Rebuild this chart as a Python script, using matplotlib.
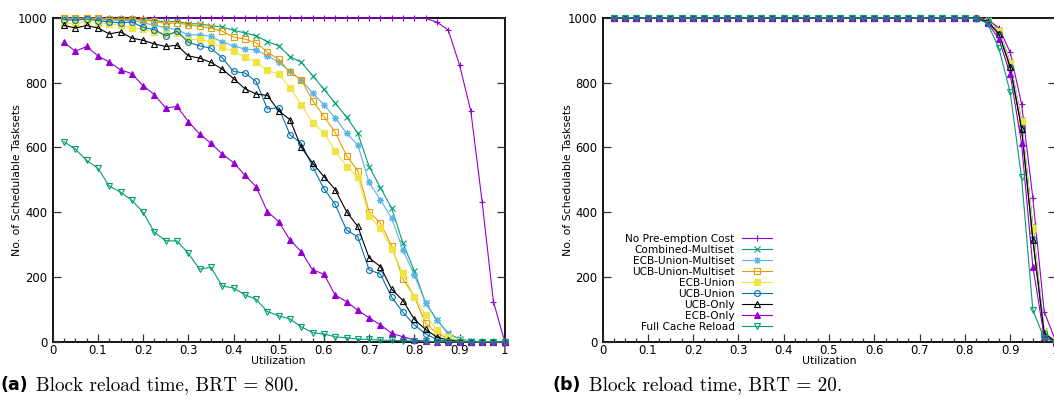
import matplotlib
matplotlib.use("Agg")
import matplotlib.pyplot as plt

utilization = [0.025, 0.05, 0.075, 0.1, 0.125, 0.15, 0.175, 0.2, 0.225, 0.25,
               0.275, 0.3, 0.325, 0.35, 0.375, 0.4, 0.425, 0.45, 0.475, 0.5,
               0.525, 0.55, 0.575, 0.6, 0.625, 0.65, 0.675, 0.7, 0.725, 0.75,
               0.775, 0.8, 0.825, 0.85, 0.875, 0.9, 0.925, 0.95, 0.975, 1.0]

series_names = ["No Pre-emption Cost", "Combined-Multiset", "ECB-Union-Multiset",
                "UCB-Union-Multiset", "ECB-Union", "UCB-Union", "UCB-Only",
                "ECB-Only", "Full Cache Reload"]

# ---- (a) BRT = 800 ----
a_no_preemption = [1000, 1000, 1000, 1000, 1000, 1000, 1000, 1000, 1000, 1000,
                   1000, 1000, 1000, 1000, 1000, 1000, 1000, 1000, 1000, 1000,
                   1000, 1000, 1000, 1000, 1000, 1000, 1000, 1000, 1000, 1000,
                   1000, 1000, 999, 987, 963, 855, 713, 433, 124, 0]
a_combined_multiset = [999, 999, 999, 999, 998, 997, 996, 994, 992, 988,
                       990, 982, 982, 976, 972, 962, 954, 945, 927, 914,
                       881, 863, 822, 780, 737, 694, 644, 541, 476, 412,
                       304, 219, 119, 67, 26, 8, 2, 0, 0, 0]
a_ecb_union_multiset = [997, 996, 998, 996, 994, 992, 993, 985, 978, 970,
                        964, 948, 948, 943, 926, 914, 904, 902, 883, 863,
                        835, 809, 768, 732, 691, 644, 608, 492, 439, 381,
                        283, 206, 121, 67, 24, 8, 2, 0, 0, 0]
a_ucb_union_multiset = [999, 999, 999, 999, 997, 996, 997, 993, 990, 982,
                        985, 979, 974, 969, 959, 941, 935, 923, 894, 873,
                        832, 809, 745, 696, 647, 575, 528, 402, 366, 296,
                        194, 139, 57, 26, 10, 3, 0, 0, 0, 0]
a_ecb_union = [986, 980, 992, 986, 981, 978, 969, 965, 957, 950,
               955, 933, 935, 926, 909, 897, 879, 864, 838, 827,
               785, 732, 677, 646, 590, 541, 509, 387, 351, 286,
               211, 139, 83, 36, 15, 3, 0, 0, 0, 0]
a_ucb_union = [995, 993, 997, 992, 988, 985, 988, 971, 964, 945,
               959, 925, 914, 907, 877, 835, 830, 804, 719, 723,
               639, 613, 541, 473, 424, 345, 324, 222, 209, 137,
               91, 52, 24, 7, 2, 0, 0, 0, 0, 0]
a_ucb_only = [977, 969, 977, 969, 951, 957, 938, 931, 920, 912,
              916, 883, 876, 863, 842, 813, 782, 765, 761, 713,
              686, 600, 552, 510, 470, 402, 356, 259, 232, 162,
              127, 69, 38, 14, 5, 1, 0, 0, 0, 0]
a_ecb_only = [925, 897, 912, 883, 864, 840, 828, 791, 763, 722,
              727, 680, 642, 613, 580, 553, 515, 479, 402, 371,
              314, 278, 222, 209, 144, 124, 97, 74, 52, 26,
              15, 5, 2, 0, 0, 0, 0, 0, 0, 0]
a_full_cache_reload = [618, 595, 560, 536, 481, 462, 437, 400, 338, 312,
                       311, 273, 224, 230, 172, 166, 145, 131, 93, 80,
                       70, 46, 28, 24, 15, 12, 8, 7, 5, 4,
                       3, 2, 1, 0, 0, 0, 0, 0, 0, 0]

# ---- (b) BRT = 20 ----
b_no_preemption = [1000, 1000, 1000, 1000, 1000, 1000, 1000, 1000, 1000, 1000,
                   1000, 1000, 1000, 1000, 1000, 1000, 1000, 1000, 1000, 1000,
                   1000, 1000, 1000, 1000, 1000, 1000, 1000, 1000, 1000, 1000,
                   1000, 1000, 1000, 995, 970, 894, 735, 444, 93, 3]
b_combined_multiset = [1000, 1000, 1000, 1000, 1000, 1000, 1000, 1000, 1000, 1000,
                       1000, 1000, 1000, 1000, 1000, 1000, 1000, 1000, 1000, 1000,
                       1000, 1000, 1000, 1000, 1000, 1000, 1000, 1000, 1000, 1000,
                       1000, 1000, 1000, 993, 962, 864, 684, 356, 32, 0]
b_ecb_union_multiset = [1000, 1000, 1000, 1000, 1000, 1000, 1000, 1000, 1000, 1000,
                        1000, 1000, 1000, 1000, 1000, 1000, 1000, 1000, 1000, 1000,
                        1000, 1000, 1000, 1000, 1000, 1000, 1000, 1000, 1000, 1000,
                        1000, 1000, 1000, 993, 961, 862, 682, 353, 31, 0]
b_ucb_union_multiset = [1000, 1000, 1000, 1000, 1000, 1000, 1000, 1000, 1000, 1000,
                        1000, 1000, 1000, 1000, 1000, 1000, 1000, 1000, 1000, 1000,
                        1000, 1000, 1000, 1000, 1000, 1000, 1000, 1000, 1000, 1000,
                        1000, 1000, 1000, 992, 958, 858, 676, 346, 29, 0]
b_ecb_union = [1000, 1000, 1000, 1000, 1000, 1000, 1000, 1000, 1000, 1000,
               1000, 1000, 1000, 1000, 1000, 1000, 1000, 1000, 1000, 1000,
               1000, 1000, 1000, 1000, 1000, 1000, 1000, 1000, 1000, 1000,
               1000, 1000, 1000, 992, 960, 862, 681, 350, 30, 0]
b_ucb_union = [1000, 1000, 1000, 1000, 1000, 1000, 1000, 1000, 1000, 1000,
               1000, 1000, 1000, 1000, 1000, 1000, 1000, 1000, 1000, 1000,
               1000, 1000, 1000, 1000, 1000, 1000, 1000, 1000, 1000, 1000,
               1000, 1000, 1000, 990, 952, 850, 660, 318, 26, 0]
b_ucb_only = [1000, 1000, 1000, 1000, 1000, 1000, 1000, 1000, 1000, 1000,
              1000, 1000, 1000, 1000, 1000, 1000, 1000, 1000, 1000, 1000,
              1000, 1000, 1000, 1000, 1000, 1000, 1000, 1000, 1000, 1000,
              1000, 1000, 1000, 989, 950, 848, 658, 314, 25, 0]
b_ecb_only = [1000, 1000, 1000, 1000, 1000, 1000, 1000, 1000, 1000, 1000,
              1000, 1000, 1000, 1000, 1000, 1000, 1000, 1000, 1000, 1000,
              1000, 1000, 1000, 1000, 1000, 1000, 1000, 1000, 1000, 1000,
              1000, 1000, 999, 986, 935, 826, 613, 232, 15, 0]
b_full_cache_reload = [1000, 1000, 1000, 1000, 1000, 1000, 1000, 1000, 1000, 1000,
                       1000, 1000, 1000, 1000, 1000, 1000, 1000, 1000, 1000, 1000,
                       1000, 1000, 1000, 1000, 1000, 1000, 1000, 1000, 1000, 1000,
                       1000, 1000, 998, 983, 907, 770, 508, 98, 10, 0]

x_ticks = [0, 0.1, 0.2, 0.3, 0.4, 0.5, 0.6, 0.7, 0.8, 0.9, 1.0]
x_tick_labels = ["0", "0.1", "0.2", "0.3", "0.4", "0.5", "0.6", "0.7", "0.8", "0.9", "1"]
y_ticks = [0, 200, 400, 600, 800, 1000]
y_tick_labels = ["0", "200", "400", "600", "800", "1000"]

captions = ["Block reload time, BRT = 800.", "Block reload time, BRT = 20."]
caption_tags = ["(a)", "(b)"]

# styles (gnuplot default palette)
styles = [
    dict(color="#9400D3", marker="+", mfc="none", ms=5.0),
    dict(color="#009E73", marker="x", mfc="none", ms=4.0),
    dict(color="#56B4E9", marker=(8, 2, 0), mfc="none", ms=5.0),
    dict(color="#E69F00", marker="s", mfc="none", ms=4.0),
    dict(color="#F0E442", marker="s", mfc="#F0E442", ms=4.0),
    dict(color="#0072B2", marker="o", mfc="none", ms=4.2),
    dict(color="#000000", marker="^", mfc="none", ms=4.2),
    dict(color="#9400D3", marker="^", mfc="#9400D3", ms=4.2),
    dict(color="#009E73", marker="v", mfc="none", ms=4.2),
]

data_a = [a_no_preemption, a_combined_multiset, a_ecb_union_multiset,
          a_ucb_union_multiset, a_ecb_union, a_ucb_union, a_ucb_only,
          a_ecb_only, a_full_cache_reload]
data_b = [b_no_preemption, b_combined_multiset, b_ecb_union_multiset,
          b_ucb_union_multiset, b_ecb_union, b_ucb_union, b_ucb_only,
          b_ecb_only, b_full_cache_reload]

W, H = 1054, 403
fig = plt.figure(figsize=(W / 100, H / 100), dpi=100)

def px_axes(x0, x1, ytop, ybot):
    return fig.add_axes([x0 / W, (H - ybot) / H, (x1 - x0) / W, (ybot - ytop) / H])

ax_a = px_axes(52.7, 504.7, 18.0, 341.7)
ax_b = px_axes(602.5, 1055.5, 18.0, 341.7)

for ax, data in ((ax_a, data_a), (ax_b, data_b)):
    for name, vals, st in zip(series_names, data, styles):
        ax.plot(utilization, vals, color=st["color"], lw=0.8, marker=st["marker"],
                ms=st["ms"], mfc=st["mfc"], mec=st["color"], mew=0.8,
                label=name, clip_on=False)
    ax.set_xlim(0, 1)
    ax.set_ylim(0, 1000)
    ax.set_xticks(x_ticks)
    ax.set_xticklabels(x_tick_labels)
    ax.set_xticks([0.025 * i for i in range(41) if i % 4 != 0], minor=True)
    ax.set_yticks(y_ticks)
    ax.set_yticklabels(y_tick_labels)
    ax.tick_params(axis="both", which="major", direction="in", length=6, width=0.9,
                   color="#333333", labelsize=8.4, pad=3.8)
    ax.tick_params(axis="x", which="major", pad=2)
    ax.tick_params(axis="y", which="both", right=True)
    ax.tick_params(axis="x", which="minor", direction="in", length=3, width=0.9,
                   color="#333333", top=False)
    ax.tick_params(axis="y", which="minor", left=False, right=False)
    for sp in ax.spines.values():
        sp.set_linewidth(1.3)
        sp.set_color("black")
        sp.set_zorder(0.5)
    ax.set_xlabel("Utilization", fontsize=7.8)
    ax.set_ylabel("No. of Schedulable Tasksets", fontsize=7.8)
    ax.xaxis.set_label_coords(0.5, -0.043)

ax_a.yaxis.set_label_coords(-0.069, 0.5)
ax_b.yaxis.set_label_coords(-0.066, 0.5)

leg = ax_b.legend(loc="lower right", bbox_to_anchor=(772 / W, (H - 332) / H),
                  bbox_transform=fig.transFigure, frameon=False, markerfirst=False,
                  fontsize=7.6, handlelength=2.8, handletextpad=0.73,
                  labelspacing=0.1, borderpad=0, borderaxespad=0)

# captions
for tag, cap, x0 in zip(caption_tags, captions, (0, 553)):
    fig.text(x0 / W, (H - 390) / H, tag, fontsize=12.5, fontweight="bold",
             family="DejaVu Sans", ha="left", va="baseline")
    fig.text((x0 + 36) / W, (H - 390) / H, cap, fontsize=13.8,
             family=["cmr10", "DejaVu Serif"], ha="left", va="baseline")

fig.savefig("out.png", dpi=100)
